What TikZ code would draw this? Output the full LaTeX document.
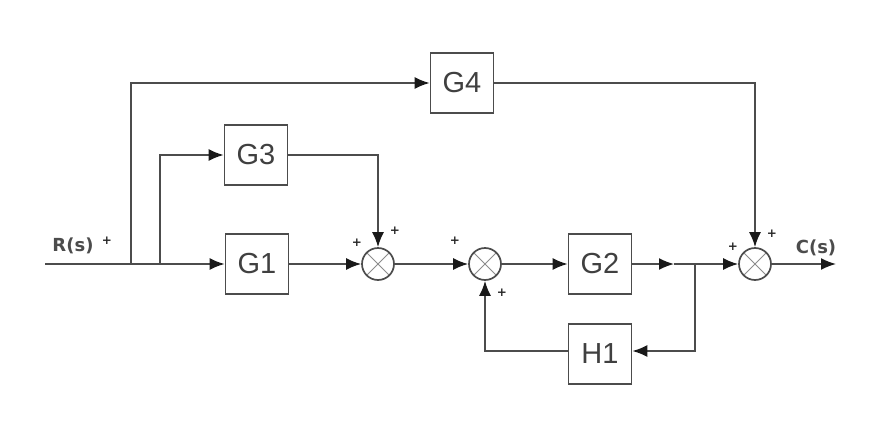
\documentclass[tikz,border=0pt]{standalone}
\usepackage{fontspec}
\setmainfont{Liberation Sans}
\newfontfamily\sigfont{DejaVu Sans}
\usetikzlibrary{arrows.meta, positioning}

\begin{document}
\begin{tikzpicture}[x=1pt, y=-1pt, line width=1.7pt, draw=black!70,
    >={Latex[length=15pt,width=12pt,color=black!90]},
    box/.style={rectangle, draw, minimum width=63pt, minimum height=60pt, font=\fontsize{29}{30}\selectfont, text=black!75},
    sumj/.style={circle, draw, minimum size=32pt, inner sep=0pt,
        path picture={\draw[line width=0.8pt, black!45] (path picture bounding box.north west) -- (path picture bounding box.south east)
            (path picture bounding box.north east) -- (path picture bounding box.south west);}},
    plus/.style={font=\sigfont\bfseries\fontsize{12}{12}\selectfont, text=black!85, inner sep=0pt},
    sig/.style={font=\sigfont\bfseries\fontsize{18}{20}\selectfont, text=black!70, inner sep=0pt}]
\useasboundingbox (0,0) rectangle (870,442);

% blocks
\node[box] (g1) at (257,264) {G1};
\node[box] (g3) at (256,155) {G3};
\node[box] (g4) at (462,83) {G4};
\node[box] (g2) at (600,264) {G2};
\node[box] (h1) at (600,354) {H1};

% summing junctions
\node[sumj] (s1) at (378,264) {};
\node[sumj] (s2) at (485,264) {};
\node[sumj] (s3) at (755,264) {};

% signals
\coordinate (rin) at (45,264);
\coordinate (b1) at (131,264);
\coordinate (b2) at (160,264);
\coordinate (mid) at (674,264);
\coordinate (br) at (695,264);
\coordinate (cout) at (836,264);
\node[sig] (rlab) at (73,246) {R(s)};
\node[plus] (rp) at (107,241) {+};
\node[sig] (clab) at (816,248) {C(s)};

% signs
\node[plus] (p1a) at (357,243) {+};
\node[plus] (p1b) at (395,231) {+};
\node[plus] (p2a) at (455,241) {+};
\node[plus] (p2b) at (502,293) {+};
\node[plus] (p3a) at (733,247) {+};
\node[plus] (p3b) at (772,234) {+};

% connections
\draw[->] (rin) -- (g1);
\draw[->] (b1) |- (g4);
\draw[->] (b2) |- (g3);
\draw[->] (g1) -- (s1);
\draw[->] (g3) -| (s1);
\draw[->] (s1) -- (s2);
\draw[->] (s2) -- (g2);
\draw[->] (g2) -- (mid);
\draw[->] (mid) -- (s3);
\draw[->] (br) |- (h1.east |- 0,351);
\draw[->] (h1.west |- 0,351) -| (s2);
\draw[->] (g4) -| (s3);
\draw[->] (s3) -- (cout);
\end{tikzpicture}
\end{document}
